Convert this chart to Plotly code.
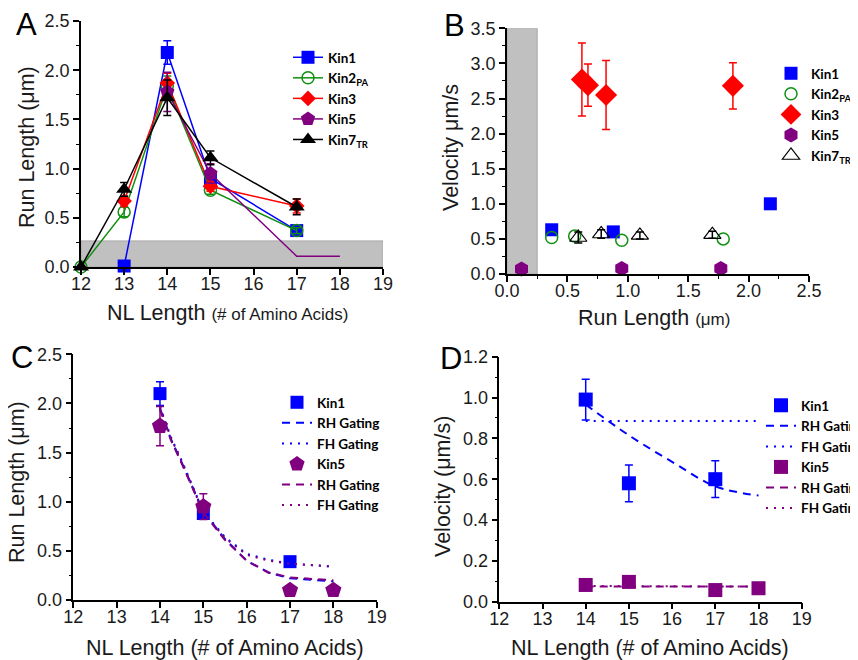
import plotly.graph_objects as go

# ---------------- Panel A data ----------------
a_kin1_x = [13, 14, 15, 17]
a_kin1_y = [0.01, 2.18, 0.90, 0.37]
a_kin1_e = [0.0, 0.12, 0.06, 0.04]
a_kin2_x = [12, 13, 14, 15, 17]
a_kin2_y = [0.0, 0.56, 1.84, 0.78, 0.37]
a_kin2_e = [0.0, 0.05, 0.10, 0.04, 0.03]
a_kin3_x = [13, 14, 15, 17]
a_kin3_y = [0.67, 1.87, 0.82, 0.62]
a_kin3_e = [0.05, 0.10, 0.05, 0.07]
a_kin5_x = [14, 15, 17, 18]
a_kin5_y = [1.78, 0.95, 0.11, 0.11]
a_kin5_e = [0.20, 0.10, 0.0, 0.0]
a_kin7_x = [12, 13, 14, 15, 17]
a_kin7_y = [0.0, 0.79, 1.72, 1.11, 0.61]
a_kin7_e = [0.0, 0.07, 0.18, 0.07, 0.08]
a_band = [0.0, 0.265]

# ---------------- Panel B data ----------------
b_kin1_rl = [0.37, 0.88, 2.18]
b_kin1_v = [0.63, 0.60, 1.00]
b_kin1_e = [0.03, 0.03, 0.06]
b_kin2_rl = [0.37, 0.56, 0.95, 1.79]
b_kin2_v = [0.52, 0.54, 0.48, 0.50]
b_kin3_rl = [0.62, 0.67, 0.82, 1.87]
b_kin3_v = [2.77, 2.69, 2.55, 2.68]
b_kin3_e = [0.52, 0.30, 0.49, 0.33]
b_kin5_rl = [0.12, 0.95, 1.77]
b_kin5_v = [0.07, 0.08, 0.08]
b_kin7_rl = [0.59, 0.78, 1.10, 1.70]
b_kin7_v = [0.52, 0.57, 0.55, 0.56]
b_kin7_e = [0.08, 0.06, 0.05, 0.05]
b_band = [0.0, 0.25]

# ---------------- Panel C data ----------------
c_kin1_x = [14, 15, 17]
c_kin1_y = [2.10, 0.88, 0.39]
c_kin1_e = [0.12, 0.05, 0.03]
c_kin5_x = [14, 15, 17, 18]
c_kin5_y = [1.77, 0.95, 0.10, 0.10]
c_kin5_e = [0.20, 0.13, 0.0, 0.0]
c_fit_x = [14, 14.25, 14.5, 14.75, 15, 15.5, 16, 16.5, 17, 18]
c_kin1_rh = [1.95, 1.64, 1.40, 1.15, 0.90, 0.62, 0.40, 0.28, 0.22, 0.19]
c_kin1_fh = [1.97, 1.66, 1.42, 1.16, 0.90, 0.64, 0.47, 0.41, 0.37, 0.34]
c_kin5_rh = [1.94, 1.63, 1.39, 1.14, 0.89, 0.61, 0.40, 0.28, 0.23, 0.20]
c_kin5_fh = [1.96, 1.65, 1.41, 1.15, 0.89, 0.63, 0.46, 0.40, 0.37, 0.34]

# ---------------- Panel D data ----------------
d_kin1_x = [14, 15, 17]
d_kin1_y = [0.99, 0.58, 0.60]
d_kin1_e = [0.10, 0.09, 0.09]
d_kin5_x = [14, 15, 17, 18]
d_kin5_y = [0.082, 0.097, 0.057, 0.066]
d_rh_x = [14, 15, 16, 17, 18]
d_kin1_rh = [0.965, 0.815, 0.685, 0.565, 0.52]
d_fh_x = [14, 18]
d_kin1_fh = [0.885, 0.885]
d_kin5_rh = [0.075, 0.075]
d_kin5_fh = [0.077, 0.074]

BLUE = "#0000FF"
GREEN = "#109010"
RED = "#FF0000"
PURPLE = "#800080"
BLACK = "#000000"

OFF = 8  # page body margin
W, H = 858, 660


def px(x):
    return (x - OFF) / W


def py(y):
    return 1 - (y - OFF) / H


fig = go.Figure()


def err(arr, color):
    return dict(type="data", array=arr, visible=True, color=color, thickness=1.5, width=4)


def add(x, y, name, color, symbol, size, mode="lines+markers", e=None, xa="x", ya="y",
        legend="legend", showlegend=True, dash="solid", lw=1.5, mline=None):
    marker = dict(color=color, symbol=symbol, size=size)
    if mline is not None:
        marker["line"] = dict(color=color, width=mline)
    fig.add_trace(go.Scatter(
        x=x, y=y, name=name, mode=mode, xaxis=xa, yaxis=ya, legend=legend,
        showlegend=showlegend, cliponaxis=False,
        line=dict(color=color, width=lw, dash=dash),
        marker=marker,
        error_y=err(e, color) if e is not None else None,
    ))


# Panel A
add(a_kin1_x, a_kin1_y, "<b>Kin1</b>", BLUE, "square", 13, e=a_kin1_e)
add(a_kin2_x, a_kin2_y, "<b>Kin2<sub>PA</sub></b>", GREEN, "circle-open", 12, e=a_kin2_e, mline=1.5)
add(a_kin3_x, a_kin3_y, "<b>Kin3</b>", RED, "diamond", 12, e=a_kin3_e)
add(a_kin5_x[:2], a_kin5_y[:2], "<b>Kin5</b>", PURPLE, "pentagon", 15, e=a_kin5_e[:2])
add(a_kin5_x[1:], a_kin5_y[1:], "Kin5", PURPLE, "pentagon", 1, mode="lines", showlegend=False)
add(a_kin7_x, a_kin7_y, "<b>Kin7<sub>TR</sub></b>", BLACK, "triangle-up", 14, e=a_kin7_e)

# Panel B
add(b_kin1_rl, b_kin1_v, "<b>Kin1</b>", BLUE, "square", 13, mode="markers", e=b_kin1_e,
    xa="x2", ya="y2", legend="legend2")
add(b_kin2_rl, b_kin2_v, "<b>Kin2<sub>PA</sub></b>", GREEN, "circle-open", 12, mode="markers",
    xa="x2", ya="y2", legend="legend2", mline=1.5)
add(b_kin3_rl, b_kin3_v, "<b>Kin3</b>", RED, "diamond", 17, mode="markers", e=b_kin3_e,
    xa="x2", ya="y2", legend="legend2")
add(b_kin5_rl, b_kin5_v, "<b>Kin5</b>", PURPLE, "hexagon", 15, mode="markers",
    xa="x2", ya="y2", legend="legend2")
add(b_kin7_rl, b_kin7_v, "<b>Kin7<sub>TR</sub></b>", BLACK, "triangle-up-open", 15, mode="markers",
    e=b_kin7_e, xa="x2", ya="y2", legend="legend2", mline=1.2)

# Panel C
add(c_kin1_x, c_kin1_y, "<b>Kin1</b>", BLUE, "square", 13, mode="markers", e=c_kin1_e,
    xa="x3", ya="y3", legend="legend3")
add(c_fit_x, c_kin1_rh, "<b>RH Gating</b>", BLUE, "circle", 1, mode="lines", dash="8px,6px",
    xa="x3", ya="y3", legend="legend3", lw=2)
add(c_fit_x, c_kin1_fh, "<b>FH Gating</b>", BLUE, "circle", 1, mode="lines", dash="2px,6px",
    xa="x3", ya="y3", legend="legend3", lw=2)
add(c_kin5_x, c_kin5_y, "<b>Kin5</b>", PURPLE, "pentagon", 17, mode="markers", e=c_kin5_e,
    xa="x3", ya="y3", legend="legend3")
add(c_fit_x, c_kin5_rh, "<b>RH Gating</b>", PURPLE, "circle", 1, mode="lines", dash="8px,6px",
    xa="x3", ya="y3", legend="legend3", lw=2)
add(c_fit_x, c_kin5_fh, "<b>FH Gating</b>", PURPLE, "circle", 1, mode="lines", dash="2px,6px",
    xa="x3", ya="y3", legend="legend3", lw=2)

# Panel D
add(d_kin1_x, d_kin1_y, "<b>Kin1</b>", BLUE, "square", 14, mode="markers", e=d_kin1_e,
    xa="x4", ya="y4", legend="legend4")
fig.add_trace(go.Scatter(x=d_rh_x, y=d_kin1_rh, name="<b>RH Gating</b>", mode="lines",
                         xaxis="x4", yaxis="y4", legend="legend4", cliponaxis=False,
                         line=dict(color=BLUE, width=2, dash="8px,6px", shape="spline", smoothing=1)))
add(d_fh_x, d_kin1_fh, "<b>FH Gating</b>", BLUE, "circle", 1, mode="lines", dash="2px,6px",
    xa="x4", ya="y4", legend="legend4", lw=2)
add(d_kin5_x, d_kin5_y, "<b>Kin5</b>", PURPLE, "square", 14, mode="markers",
    xa="x4", ya="y4", legend="legend4")
add(d_fh_x, d_kin5_rh, "<b>RH Gating</b>", PURPLE, "circle", 1, mode="lines", dash="8px,6px",
    xa="x4", ya="y4", legend="legend4", lw=2)
add(d_fh_x, d_kin5_fh, "<b>FH Gating</b>", PURPLE, "circle", 1, mode="lines", dash="2px,6px",
    xa="x4", ya="y4", legend="legend4", lw=2)

# Gray bands
fig.add_shape(type="rect", xref="x", yref="y", x0=12, x1=19, y0=a_band[0], y1=a_band[1],
              fillcolor="#C0C0C0", line=dict(color="#A8A8A8", width=1), layer="below")
fig.add_shape(type="rect", xref="x2", yref="y2", x0=b_band[0], x1=b_band[1], y0=0, y1=3.5,
              fillcolor="#C0C0C0", line=dict(color="#A8A8A8", width=1), layer="below")

TICKFONT = dict(family="Liberation Sans, Arial", size=18, color="#1a1a1a")


def axis(domain, rng, dtick, minor_dtick, fmt=None, anchor=None, standoff=0):
    d = dict(domain=domain, range=rng, dtick=dtick, tick0=rng[0], showline=True, linecolor="black",
             linewidth=1.5, ticks="outside", ticklen=6, tickwidth=1.5, tickcolor="black",
             showgrid=False, zeroline=False, tickfont=TICKFONT, anchor=anchor,
             ticklabelstandoff=standoff, automargin=False)
    if minor_dtick:
        d["minor"] = dict(dtick=minor_dtick, ticks="outside", ticklen=3, tickwidth=1.2,
                          tickcolor="black", showgrid=False)
    if fmt:
        d["tickformat"] = fmt
    return d


LEGFONT = dict(family="Lato, Liberation Sans", size=13.5, color="black")


def legend(x, y):
    return dict(x=x, y=y, xanchor="left", yanchor="top", bgcolor="rgba(0,0,0,0)",
                font=LEGFONT, tracegroupgap=0, itemsizing="trace")


XS = -6
fig.update_layout(
    width=W, height=H, margin=dict(l=0, r=0, t=0, b=0, autoexpand=False),
    paper_bgcolor="white", plot_bgcolor="white", showlegend=True,
    xaxis=axis([px(81), px(383)], [12, 19], 1, None, anchor="y", standoff=XS),
    yaxis=axis([py(267), py(21)], [0, 2.5], 0.5, 0.25, ".1f", anchor="x"),
    xaxis2=axis([px(507), px(809)], [0, 2.5], 0.5, 0.25, ".1f", anchor="y2", standoff=XS),
    yaxis2=axis([py(274), py(28.3)], [0, 3.5], 0.5, 0.25, ".1f", anchor="x2"),
    xaxis3=axis([px(73.3), px(376.7)], [12, 19], 1, None, anchor="y3", standoff=XS),
    yaxis3=axis([py(600), py(354.3)], [0, 2.5], 0.5, 0.25, ".1f", anchor="x3"),
    xaxis4=axis([px(499.3), px(801.7)], [12, 19], 1, None, anchor="y4", standoff=XS),
    yaxis4=axis([py(601.7), py(356.7)], [0, 1.2], 0.2, 0.1, ".1f", anchor="x4"),
    legend=legend(px(288), py(42)),
    legend2=legend(px(771), py(58)),
    legend3=legend(px(277), py(387)),
    legend4=legend(px(761), py(390)),
)

SMALL = "<span style='font-size:17px'>"
annots = [
    ("A", 26, 24, 0, 31), ("B", 455, 25, 0, 31), ("C", 22, 357, 0, 31), ("D", 451, 358, 0, 31),
    ("Run Length (μm)", 27, 147, -90, 21.5),
    ("NL Length " + SMALL + "(# of Amino Acids)</span>", 228, 313, 0, 21.5),
    ("Velocity μm/s", 451, 148, -90, 21.5),
    ("Run Length " + SMALL + "(μm)</span>", 654, 318, 0, 21.5),
    ("Run Length (μm)", 17, 482, -90, 21.5),
    ("NL Length (# of Amino Acids)", 225, 648, 0, 21.5),
    ("Velocity (μm/s)", 443, 487, -90, 21.5),
    ("NL Length (# of Amino Acids)", 650, 648, 0, 21.5),
]
for text, x, y, ang, size in annots:
    fig.add_annotation(text=text, x=px(x), y=py(y), xref="paper", yref="paper",
                       xanchor="center", yanchor="middle", textangle=ang, showarrow=False,
                       font=dict(family="Liberation Sans, Arial", size=size,
                                 color="black" if size == 31 else "#1a1a1a"))

fig.write_html("out.html")
